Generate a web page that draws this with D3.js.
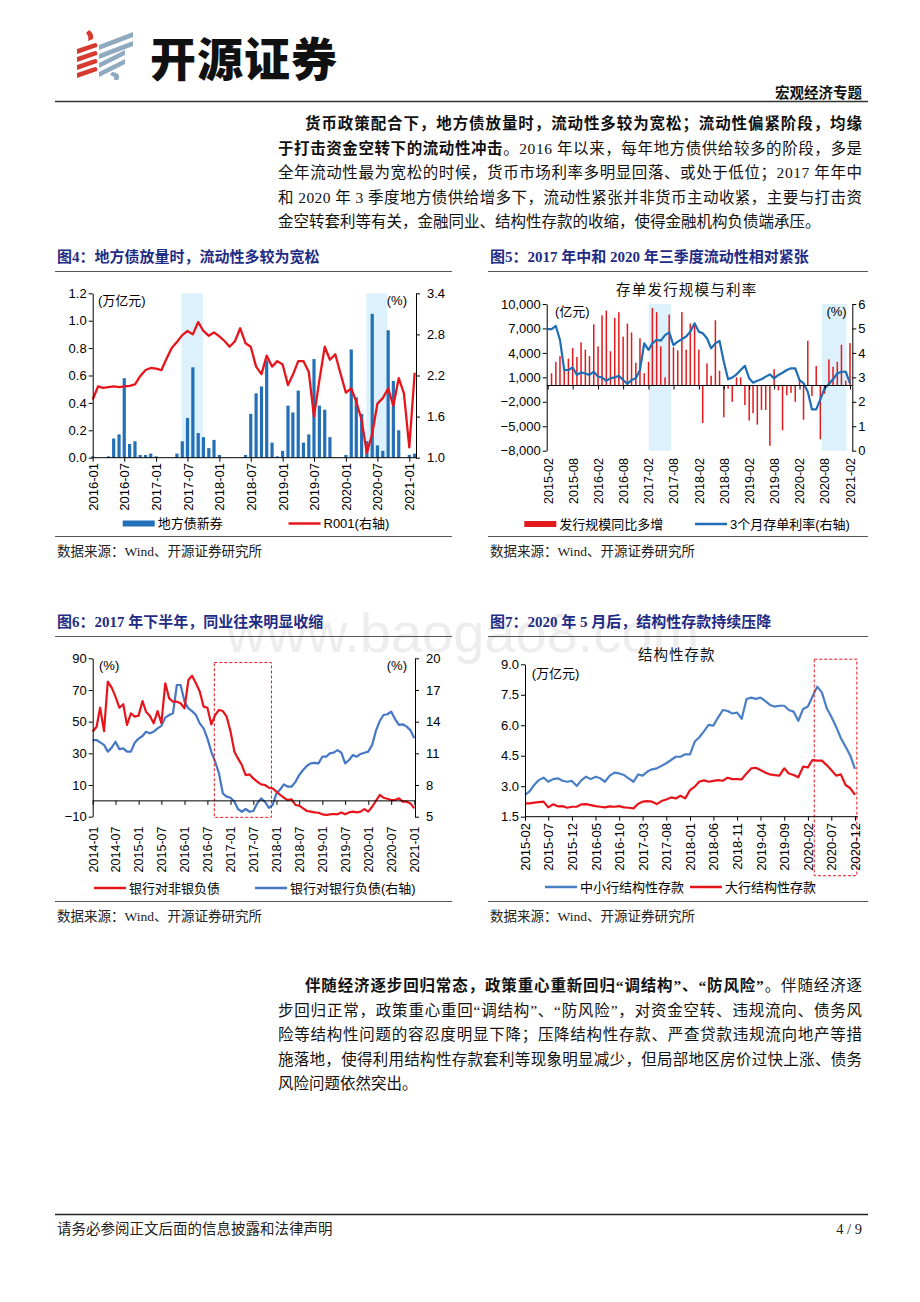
<!DOCTYPE html>
<html>
<head>
<meta charset="utf-8">
<script src="https://cdn.jsdelivr.net/npm/d3@7"></script>
<style>
html, body { margin: 0; padding: 0; background: #fff; }
svg { display: block; }
</style>
</head>
<body>
<svg id="page" width="920" height="1302"></svg>
<script>
'use strict';

// ---- 图4: 地方债新券 (万亿元) / R001 (%) ----
var c4Start = "2016-01";
var c4Bond = [0.01, 0, 0, 0.01, 0.14, 0.17, 0.58, 0.10, 0.12, 0.02, 0.02, 0.03,
              0.01, 0, 0, 0, 0.03, 0.12, 0.29, 0.66, 0.18, 0.15, 0.07, 0.13,
              0.02, 0, 0, 0, 0, 0.02, 0.32, 0.47, 0.52, 0.71, 0.11, 0.01,
              0.05, 0.38, 0.33, 0.49, 0.11, 0.17, 0.72, 0.38, 0.35, 0.15, 0, 0,
              0.02, 0.79, 0.44, 0.32, 0.12, 1.05, 0.09, 0.05, 0.93, 0.56, 0.20, 0,
              0.02, 0.03];
var c4R001 = [1.85, 2.04, 2.02, 2.03, 2.04, 2.03, 2.04, 2.05, 2.07, 2.19, 2.28, 2.31,
              2.30, 2.28, 2.44, 2.60, 2.69, 2.79, 2.85, 2.80, 2.98, 2.85, 2.78, 2.83,
              2.77, 2.70, 2.62, 2.70, 2.89, 2.67, 2.62, 2.33, 2.22, 2.49, 2.33, 2.41,
              2.36, 2.06, 2.21, 2.41, 2.41, 2.25, 1.60, 2.13, 2.62, 2.43, 2.51, 2.23,
              1.95, 2.01, 1.82, 1.55, 1.07, 1.35, 1.79, 1.87, 2.01, 1.76, 2.16, 1.94,
              1.15, 2.24];
var c4Shade = [["2017-05-28", "2017-09-28"], ["2020-04-28", "2020-08-28"]];
var c4Ticks = ["2016-01", "2016-07", "2017-01", "2017-07", "2018-01", "2018-07",
               "2019-01", "2019-07", "2020-01", "2020-07", "2021-01"];
var c4LeftTicks = [0, 0.2, 0.4, 0.6, 0.8, 1.0, 1.2];
var c4RightTicks = [1.0, 1.6, 2.2, 2.8, 3.4];

// ---- 图5: 存单发行规模同比多增 (亿元) / 3个月存单利率 (%) ----
var c5BarStart = "2015-03";
var c5Bars = [1500, 2900, 3600, 2000, 3300, 4600, 3500, 5300, 4400, 3600,
              7500, 4800, 8600, 9200, 4200, 8300, 9000, 6000, 7600, 6500,
              2800, 5800, 1500, 2900, 9500, 9000, 4800, 1000, 8700, 4700,
              4300, 9000, 4400, 7600, 7500, 4400, -4600, 2700, 1200, 8000,
              1800, -3900, -400, -2000, 1000, 1000, -2400, -4300, -3400, -4800,
              -3000, -3000, -7400, 2000, -600, -5500, -1200, -900, -2000, 600,
              -4200, 5500, -1300, 2400, -6600, -1000, 3200, 2300, 2900, 5000,
              600, 5200];
var c5LineStart = "2015-02";
var c5Rate = [4.97, 4.97, 5.10, 4.53, 3.30, 3.30, 3.40, 3.10, 3.20, 3.16, 3.10, 3.23,
              3.03, 3.00, 2.86, 2.96, 3.00, 3.06, 2.89, 2.73, 2.89, 2.96, 3.30, 4.39,
              4.12, 4.39, 4.53, 4.50, 4.73, 4.84, 4.32, 4.46, 4.56, 4.67, 4.87, 5.21,
              4.87, 4.80, 4.60, 4.19, 4.39, 4.49, 3.64, 2.92, 2.99, 3.12, 3.30, 3.47,
              2.96, 2.78, 2.86, 2.92, 3.03, 3.12, 2.96, 3.10, 3.19, 3.30, 3.37, 3.37,
              2.89, 2.76, 2.41, 1.69, 1.69, 2.10, 2.55, 2.73, 2.92, 3.16, 3.23, 3.23,
              2.75];
var c5Shade = [["2017-02-03", "2017-07-16"], ["2020-07-12", "2021-01-06"]];
var c5Ticks = ["2015-02", "2015-08", "2016-02", "2016-08", "2017-02", "2017-08", "2018-02",
               "2018-08", "2019-02", "2019-08", "2020-02", "2020-08", "2021-02"];
var c5LeftTicks = [-8000, -5000, -2000, 1000, 4000, 7000, 10000];
var c5RightTicks = [0, 1, 2, 3, 4, 5, 6];

// ---- 图6: 银行对非银负债 / 银行对银行负债 (%) ----
var c6Start = "2014-01";
var c6NonBank = [43.7, 46.8, 58.8, 44, 75.3, 71.5, 65.8, 58.8, 61, 47.9, 55.3, 53.2,
                 53.8, 63, 56.3, 53.6, 49, 56.7, 49, 74.2, 64.7, 62.6, 62.6, 61.6,
                 58.4, 76.3, 79, 74.2, 69, 59.5, 58.8, 48.3, 54.2, 57.4, 56.7, 53.2,
                 43.7, 31, 26.8, 22.6, 16.3, 16.7, 14.2, 12.1, 10.4, 10, 8.3, 7.9,
                 5.8, 3.7, 2, 0.5, 1, -2.6, -3, -4.7, -6.4, -6.8, -7.3, -7.5,
                 -8.5, -8.9, -8.5, -8.3, -8.5, -7.3, -8.5, -7.3, -6.8, -7.3, -6.8, -5.2,
                 -6.8, -3.7, -0.1, 3.7, 2, 1.3, 0.5, 0.5, 1.6, -0.5, -0.5, -1.6,
                 -4.7];
var c6Bank = [12.26, 12.26, 12.04, 11.8, 11.16, 11.54, 12.1, 11.4, 11.47, 11.16, 11.16, 12.0,
              12.4, 12.64, 13.05, 12.9, 13.05, 13.37, 13.6, 14.38, 14.63, 14.79, 17.47, 17.47,
              15.9, 15.26, 15.0, 14.63, 13.84, 13.37, 12.42, 11.16, 10.2, 9.1, 7.2, 6.9,
              6.8, 6.42, 5.73, 5.47, 5.73, 5.47, 5.54, 6.26, 6.74, 6.42, 5.85, 6.1,
              7.2, 7.6, 8.06, 7.84, 7.84, 8.3, 8.95, 9.42, 9.83, 10.05, 10.1, 10.05,
              10.68, 10.68, 11.0, 11.06, 11.3, 11.06, 10.05, 10.37, 10.84, 10.68, 10.94, 11.06,
              11.16, 11.8, 13.1, 14.06, 14.63, 14.7, 14.95, 14.25, 13.7, 13.75, 13.53, 13.2,
              12.42];
var c6Box = { from: "2016-08-25", to: "2017-11-22", top: 87.3, bottom: -10.4 };
var c6Ticks = ["2014-01", "2014-07", "2015-01", "2015-07", "2016-01", "2016-07", "2017-01",
               "2017-07", "2018-01", "2018-07", "2019-01", "2019-07", "2020-01", "2020-07", "2021-01"];
var c6LeftTicks = [-10, 10, 30, 50, 70, 90];
var c6RightTicks = [5, 8, 11, 14, 17, 20];

// ---- 图7: 结构性存款 (万亿元) ----
var c7Start = "2015-02";
var c7Small = [2.57, 2.73, 3.06, 3.30, 3.42, 3.22, 3.35, 3.39, 3.27, 3.22, 3.26, 3.01,
               3.30, 3.47, 3.35, 3.47, 3.39, 3.22, 3.52, 3.67, 3.63, 3.55, 3.39, 3.22,
               3.58, 3.52, 3.72, 3.83, 3.88, 4.0, 4.13, 4.29, 4.45, 4.45, 4.57, 4.57,
               5.2, 5.4, 5.7, 6.02, 5.98, 6.38, 6.75, 6.70, 6.58, 6.62, 6.32, 7.29,
               7.36, 7.30, 7.36, 7.20, 7.00, 6.92, 6.96, 6.96, 6.75, 6.67, 6.22, 6.80,
               6.92, 7.40, 7.90, 7.62, 6.85, 6.42, 5.93, 5.36, 4.95, 4.50, 3.85];
var c7Large = [2.16, 2.16, 2.19, 2.22, 2.24, 1.96, 2.11, 2.01, 2.02, 1.94, 1.99, 1.99,
               2.11, 2.12, 2.07, 2.02, 1.99, 1.96, 2.01, 1.99, 2.02, 1.96, 1.94, 1.91,
               2.14, 2.24, 2.27, 2.24, 2.12, 2.27, 2.35, 2.45, 2.40, 2.53, 2.40, 2.81,
               2.98, 3.22, 3.29, 3.22, 3.26, 3.30, 3.27, 3.42, 3.35, 3.35, 3.34, 3.63,
               3.88, 3.91, 3.80, 3.68, 3.58, 3.55, 3.52, 3.88, 3.63, 3.55, 3.44, 3.96,
               3.93, 4.29, 4.26, 4.26, 4.04, 3.80, 3.52, 3.58, 3.06, 2.90, 2.57];
var c7Box = { from: "2020-03-13", to: "2020-12-13", top: 9.25 };
var c7Ticks = ["2015-02", "2015-07", "2015-12", "2016-05", "2016-10", "2017-03", "2017-08",
               "2018-01", "2018-06", "2018-11", "2019-04", "2019-09", "2020-02", "2020-07", "2020-12"];
var c7LeftTicks = [1.5, 3.0, 4.5, 6.0, 7.5, 9.0];

// ---- 正文 ----
var para1 = [
    { indent: true, justify: true, segs: [["货币政策配合下，地方债放量时，流动性多较为宽松；流动性偏紧阶段，均缘", true]] },
    { justify: true, segs: [["于打击资金空转下的流动性冲击", true], ["。2016 年以来，每年地方债供给较多的阶段，多是", false]] },
    { justify: true, segs: [["全年流动性最为宽松的时候，货币市场利率多明显回落、或处于低位；2017 年年中", false]] },
    { justify: true, segs: [["和 2020 年 3 季度地方债供给增多下，流动性紧张并非货币主动收紧，主要与打击资", false]] },
    { justify: false, segs: [["金空转套利等有关，金融同业、结构性存款的收缩，使得金融机构负债端承压。", false]] }
];
var para2 = [
    { indent: true, justify: true, segs: [["伴随经济逐步回归常态，政策重心重新回归“调结构”、“防风险”", true], ["。伴随经济逐", false]] },
    { justify: true, segs: [["步回归正常，政策重心重回“调结构”、“防风险”，对资金空转、违规流向、债务风", false]] },
    { justify: true, segs: [["险等结构性问题的容忍度明显下降；压降结构性存款、严查贷款违规流向地产等措", false]] },
    { justify: true, segs: [["施落地，使得利用结构性存款套利等现象明显减少，但局部地区房价过快上涨、债务", false]] },
    { justify: false, segs: [["风险问题依然突出。", false]] }
];

var BODY = '"Liberation Serif", "Noto Sans CJK SC", serif';
var CJK = '"Liberation Sans", "Noto Sans CJK SC", sans-serif';
var NUM = '"Liberation Sans", Arial, sans-serif';
var NAVY = "#1F2C86";
var RED = "#E8141B";

var parseM = d3.timeParse("%Y-%m"),
    parseD = d3.timeParse("%Y-%m-%d"),
    fmtM = d3.timeFormat("%Y-%m");

function series(start, values) {
    return values.map(function(v, i) {
        return { date: d3.timeMonth.offset(parseM(start), i), v: v };
    });
}

var svg = d3.select("#page");
svg.append("rect").attr("width", 920).attr("height", 1302).attr("fill", "#fff");

// watermark
svg.append("text")
    .attr("x", 226).attr("y", 652)
    .attr("font-family", NUM).attr("font-size", 56)
    .attr("fill", "#ededed")
    .text("www.baogao8.com");

// ---- header logo ----
var logo = svg.append("g");
// red ribbon
logo.append("path").attr("d", "M89,30C92,32 94,35 93,39L88,41C89,38 88,35 86,33Z").attr("fill", "#D63A2F");
[0, 1, 2, 3].forEach(function(k) {
    var y0 = 44 + k * 8;
    logo.append("path")
        .attr("d", "M77," + (y0 + 5) + "L95," + (y0 - 1) + "C97," + (y0 - 1) + " 98," + (y0 + 1) + " 97," + (y0 + 3) +
                   "L77," + (y0 + 10) + "Z")
        .attr("fill", "#D63A2F");
});
// blue-grey ribbon
[0, 1, 2, 3].forEach(function(k) {
    var y0 = 36 + k * 9, len = k < 2 ? 34 : 26;
    logo.append("path")
        .attr("d", "M99," + (y0 + 9) + "L" + (99 + len) + "," + (y0 - 4) + "L" + (99 + len) + "," + (y0 + 1) + "L99," + (y0 + 14) + "Z")
        .attr("fill", "#8FAAC0");
});
logo.append("path").attr("d", "M112,72C118,72 121,76 118,80L114,80C115,78 114,76 110,75Z").attr("fill", "#8FAAC0");

svg.append("text")
    .attr("x", 150).attr("y", 76)
    .attr("font-family", '"Noto Sans CJK SC", sans-serif')
    .attr("font-size", 46).attr("font-weight", 900)
    .attr("letter-spacing", 1)
    .attr("fill", "#111")
    .text("开源证券");

svg.append("text")
    .attr("x", 862).attr("y", 93)
    .attr("text-anchor", "end").attr("dominant-baseline", "central")
    .attr("font-family", BODY).attr("font-size", 14.5).attr("font-weight", "bold")
    .attr("fill", "#111")
    .text("宏观经济专题");

svg.append("line")
    .attr("x1", 55).attr("x2", 868).attr("y1", 101.5).attr("y2", 101.5)
    .attr("stroke", "#333").attr("stroke-width", 1.5);

// ---- body text ----
function paragraph(lines, y0, lh) {
    lines.forEach(function(ln, i) {
        var x0 = ln.indent ? 305 : 278;
        var t = svg.append("text")
            .attr("x", x0).attr("y", y0 + i * lh)
            .attr("dominant-baseline", "central")
            .attr("font-family", BODY).attr("font-size", 15.5)
            .attr("fill", "#111");
        if (ln.justify) {
            t.attr("textLength", 862 - x0).attr("lengthAdjust", "spacing");
        }
        ln.segs.forEach(function(s) {
            t.append("tspan").attr("font-weight", s[1] ? "bold" : "normal").text(s[0]);
        });
    });
}
paragraph(para1, 123, 24.6);
paragraph(para2, 985, 24.5);

// ---- figure frames ----
var frames = [
    { x1: 55, x2: 452, ty: 257, title: "图4：地方债放量时，流动性多较为宽松", top: 271.5, bottom: 536.5 },
    { x1: 488, x2: 868, ty: 257, title: "图5：2017 年中和 2020 年三季度流动性相对紧张", top: 271.5, bottom: 536.5 },
    { x1: 55, x2: 452, ty: 622, title: "图6：2017 年下半年，同业往来明显收缩", top: 636.5, bottom: 901.5 },
    { x1: 488, x2: 868, ty: 622, title: "图7：2020 年 5 月后，结构性存款持续压降", top: 636.5, bottom: 901.5 }
];
frames.forEach(function(f) {
    svg.append("text")
        .attr("x", f.x1 + 2).attr("y", f.ty)
        .attr("dominant-baseline", "central")
        .attr("font-family", '"Liberation Serif", "Noto Sans CJK SC", serif')
        .attr("font-size", 15).attr("font-weight", "bold")
        .attr("fill", NAVY)
        .text(f.title);
    svg.append("line").attr("x1", f.x1).attr("x2", f.x2).attr("y1", f.top).attr("y2", f.top)
        .attr("stroke", "#555").attr("stroke-width", 1.2);
    svg.append("line").attr("x1", f.x1).attr("x2", f.x2).attr("y1", f.bottom).attr("y2", f.bottom)
        .attr("stroke", "#555").attr("stroke-width", 1.2);
    svg.append("text")
        .attr("x", f.x1 + 2).attr("y", f.bottom + 14.5)
        .attr("dominant-baseline", "central")
        .attr("font-family", BODY).attr("font-size", 13.5)
        .attr("fill", "#222")
        .text("数据来源：Wind、开源证券研究所");
});

// ---- axis helpers ----
function styleAxis(a, fs) {
    a.attr("font-family", NUM).attr("font-size", fs);
    a.selectAll("path.domain").attr("stroke", "#000");
    a.selectAll(".tick line").attr("stroke", "#000");
    a.selectAll(".tick text").attr("fill", "#000");
}

function leftAxis(g, y, ticks, x, fmt, pad) {
    var a = g.append("g").attr("transform", "translate(" + x + ",0)")
        .call(d3.axisLeft(y).tickValues(ticks).tickSize(4).tickSizeOuter(0).tickPadding(pad).tickFormat(fmt));
    styleAxis(a, 13);
}

function rightAxis(g, y, ticks, x, fmt, pad) {
    var a = g.append("g").attr("transform", "translate(" + x + ",0)")
        .call(d3.axisRight(y).tickValues(ticks).tickSize(4).tickSizeOuter(0).tickPadding(pad).tickFormat(fmt));
    styleAxis(a, 13);
}

function xAxisLine(g, x, ticks, y0, xr) {
    g.append("line").attr("x1", xr[0]).attr("x2", xr[1]).attr("y1", y0).attr("y2", y0)
        .attr("stroke", "#000").attr("stroke-width", 1);
    var a = g.append("g").attr("transform", "translate(0," + y0 + ")")
        .call(d3.axisBottom(x).tickValues(ticks.map(parseM)).tickSize(4).tickFormat(""));
    a.select(".domain").remove();
    a.selectAll(".tick line").attr("stroke", "#000");
}

function xLabels(g, x, ticks, yTop, fs) {
    var a = g.append("g").attr("transform", "translate(0," + yTop + ")")
        .call(d3.axisBottom(x).tickValues(ticks.map(parseM)).tickSize(0).tickFormat(fmtM));
    a.select(".domain").remove();
    a.attr("font-family", NUM).attr("font-size", fs);
    a.selectAll("text")
        .attr("transform", "rotate(-90)")
        .attr("x", 0).attr("y", 0).attr("dy", "0.35em")
        .style("text-anchor", "end")
        .attr("fill", "#000");
}

function label(g, x, y, txt, anchor, fs) {
    g.append("text")
        .attr("x", x).attr("y", y)
        .attr("text-anchor", anchor || "start")
        .attr("dominant-baseline", "central")
        .attr("font-family", CJK).attr("font-size", fs || 13)
        .attr("fill", "#000")
        .text(txt);
}

function legendLine(g, x, y, color, txt) {
    g.append("line").attr("x1", x).attr("x2", x + 32).attr("y1", y).attr("y2", y)
        .attr("stroke", color).attr("stroke-width", 2.5);
    label(g, x + 35, y, txt, "start", 13);
}

function legendRect(g, x, y, color, txt) {
    g.append("rect").attr("x", x).attr("y", y - 3).attr("width", 32).attr("height", 6).attr("fill", color);
    label(g, x + 35, y, txt, "start", 13);
}

// ======== 图4 ========
(function() {
    var g = svg.append("g");
    var x = d3.scaleTime().domain([parseM(c4Ticks[0]), parseM(c4Ticks[c4Ticks.length - 1])]).range([92.7, 409.3]);
    var yL = d3.scaleLinear().domain([0, 1.2]).range([457.7, 293.3]);
    var yR = d3.scaleLinear().domain([1.0, 3.4]).range([457.7, 293.3]);
    var bond = series(c4Start, c4Bond), r001 = series(c4Start, c4R001);

    g.selectAll(".shade").data(c4Shade).join("rect")
        .attr("x", function(d) { return x(parseD(d[0])); })
        .attr("width", function(d) { return x(parseD(d[1])) - x(parseD(d[0])); })
        .attr("y", yL(1.2)).attr("height", yL(0) - yL(1.2))
        .attr("fill", "#DCF1FB");

    g.selectAll(".bar").data(bond.filter(function(d) { return d.v > 0; })).join("rect")
        .attr("x", function(d) { return x(d.date) - 1.6; })
        .attr("width", 3.2)
        .attr("y", function(d) { return yL(d.v); })
        .attr("height", function(d) { return yL(0) - yL(d.v); })
        .attr("fill", "#2470B8");

    g.append("path").datum(r001)
        .attr("d", d3.line().x(function(d) { return x(d.date); }).y(function(d) { return yR(d.v); }))
        .attr("fill", "none").attr("stroke", RED).attr("stroke-width", 2.3).attr("stroke-linejoin", "round");

    leftAxis(g, yL, c4LeftTicks, 92.7, d3.format(".1f"), 2);
    rightAxis(g, yR, c4RightTicks, 416, d3.format(".1f"), 7);
    xAxisLine(g, x, c4Ticks, 457.7, [92.7, 416]);
    xLabels(g, x, c4Ticks, 463, 13);

    label(g, 98, 300, "(万亿元)");
    label(g, 407, 300, "(%)", "end");
    legendRect(g, 122.7, 523.5, "#2470B8", "地方债新券");
    legendLine(g, 288.5, 523.5, RED, "R001(右轴)");
})();

// ======== 图5 ========
(function() {
    var g = svg.append("g");
    var x = d3.scaleTime().domain([parseM(c5Ticks[0]), parseM(c5Ticks[c5Ticks.length - 1])]).range([547.7, 850]);
    var yL = d3.scaleLinear().domain([-8000, 10000]).range([450.7, 304]);
    var yR = d3.scaleLinear().domain([0, 6]).range([450.7, 304]);
    var bars = series(c5BarStart, c5Bars), rate = series(c5LineStart, c5Rate);

    g.selectAll(".shade").data(c5Shade).join("rect")
        .attr("x", function(d) { return x(parseD(d[0])); })
        .attr("width", function(d) { return x(parseD(d[1])) - x(parseD(d[0])); })
        .attr("y", yL(10000)).attr("height", yL(-8000) - yL(10000))
        .attr("fill", "#DCF1FB");

    g.selectAll(".bar").data(bars).join("rect")
        .attr("x", function(d) { return x(d.date) - 0.75; })
        .attr("width", 1.5)
        .attr("y", function(d) { return yL(Math.max(0, d.v)); })
        .attr("height", function(d) { return Math.abs(yL(d.v) - yL(0)); })
        .attr("fill", "#E31A1C");

    g.append("path").datum(rate)
        .attr("d", d3.line().x(function(d) { return x(d.date); }).y(function(d) { return yR(d.v); }))
        .attr("fill", "none").attr("stroke", "#1F6DB5").attr("stroke-width", 2.2).attr("stroke-linejoin", "round");

    leftAxis(g, yL, c5LeftTicks, 546.7, d3.format(","), 2);
    rightAxis(g, yR, c5RightTicks, 852.3, d3.format("d"), 2);
    xAxisLine(g, x, c5Ticks, yL(0), [546.7, 852.3]);
    xLabels(g, x, c5Ticks, 458, 12.5);

    g.append("text")
        .attr("x", 686.7).attr("y", 289.5)
        .attr("text-anchor", "middle").attr("dominant-baseline", "central")
        .attr("font-family", CJK).attr("font-size", 14.5).attr("letter-spacing", 1.2)
        .attr("fill", "#111")
        .text("存单发行规模与利率");
    label(g, 555, 311, "(亿元)");
    label(g, 846.7, 311, "(%)", "end");
    legendRect(g, 524.3, 524, "#E31A1C", "发行规模同比多增");
    legendLine(g, 695, 524, "#1F6DB5", "3个月存单利率(右轴)");
})();

// ======== 图6 ========
(function() {
    var g = svg.append("g");
    var x = d3.scaleTime().domain([parseM(c6Ticks[0]), parseM(c6Ticks[c6Ticks.length - 1])]).range([92.7, 414.3]);
    var yL = d3.scaleLinear().domain([-10, 90]).range([816.7, 658.3]);
    var yR = d3.scaleLinear().domain([5, 20]).range([816.7, 658.3]);
    var nonBank = series(c6Start, c6NonBank), bank = series(c6Start, c6Bank);

    g.append("path").datum(bank)
        .attr("d", d3.line().x(function(d) { return x(d.date); }).y(function(d) { return yR(d.v); }))
        .attr("fill", "none").attr("stroke", "#4577C4").attr("stroke-width", 2.2).attr("stroke-linejoin", "round");
    g.append("path").datum(nonBank)
        .attr("d", d3.line().x(function(d) { return x(d.date); }).y(function(d) { return yL(d.v); }))
        .attr("fill", "none").attr("stroke", RED).attr("stroke-width", 2.2).attr("stroke-linejoin", "round");

    var bx0 = x(parseD(c6Box.from)), bx1 = x(parseD(c6Box.to));
    g.append("rect")
        .attr("x", bx0).attr("width", bx1 - bx0)
        .attr("y", yL(c6Box.top)).attr("height", yL(c6Box.bottom) - yL(c6Box.top))
        .attr("fill", "none").attr("stroke", RED).attr("stroke-width", 1).attr("stroke-dasharray", "3,2");

    leftAxis(g, yL, c6LeftTicks, 92.7, d3.format("d"), 2);
    rightAxis(g, yR, c6RightTicks, 415, d3.format("d"), 7);
    xAxisLine(g, x, c6Ticks, yL(0), [92.7, 415]);
    xLabels(g, x, c6Ticks, 826.5, 12.5);

    label(g, 99, 665, "(%)");
    label(g, 407, 665, "(%)", "end");
    legendLine(g, 94, 888, RED, "银行对非银负债");
    legendLine(g, 255, 888, "#4577C4", "银行对银行负债(右轴)");
})();

// ======== 图7 ========
(function() {
    var g = svg.append("g");
    var x = d3.scaleTime().domain([parseM(c7Ticks[0]), parseM(c7Ticks[c7Ticks.length - 1])]).range([525, 855]);
    var y = d3.scaleLinear().domain([1.5, 9]).range([816.7, 664.3]);
    var small = series(c7Start, c7Small), large = series(c7Start, c7Large);
    var line = d3.line().x(function(d) { return x(d.date); }).y(function(d) { return y(d.v); });

    g.append("path").datum(small).attr("d", line)
        .attr("fill", "none").attr("stroke", "#4A7FC6").attr("stroke-width", 2.2).attr("stroke-linejoin", "round");
    g.append("path").datum(large).attr("d", line)
        .attr("fill", "none").attr("stroke", RED).attr("stroke-width", 2.2).attr("stroke-linejoin", "round");

    var bx0 = x(parseD(c7Box.from)), bx1 = x(parseD(c7Box.to));
    g.append("rect")
        .attr("x", bx0).attr("width", bx1 - bx0)
        .attr("y", y(c7Box.top)).attr("height", y(1.5) + 59 - y(c7Box.top))
        .attr("fill", "none").attr("stroke", RED).attr("stroke-width", 1).attr("stroke-dasharray", "3,2");

    leftAxis(g, y, c7LeftTicks, 525, d3.format(".1f"), 2);
    xAxisLine(g, x, c7Ticks, 816.7, [525, 858]);
    xLabels(g, x, c7Ticks, 823, 13);

    g.append("text")
        .attr("x", 676.7).attr("y", 655)
        .attr("text-anchor", "middle").attr("dominant-baseline", "central")
        .attr("font-family", CJK).attr("font-size", 14.5).attr("letter-spacing", 1)
        .attr("fill", "#111")
        .text("结构性存款");
    label(g, 531.7, 673.5, "(万亿元)");
    legendLine(g, 545, 887, "#4A7FC6", "中小行结构性存款");
    legendLine(g, 690, 887, RED, "大行结构性存款");
})();

// ---- footer ----
svg.append("line")
    .attr("x1", 55).attr("x2", 868).attr("y1", 1214.5).attr("y2", 1214.5)
    .attr("stroke", "#222").attr("stroke-width", 1.5);
svg.append("text")
    .attr("x", 57).attr("y", 1229)
    .attr("dominant-baseline", "central")
    .attr("font-family", BODY).attr("font-size", 14.5)
    .attr("fill", "#222")
    .text("请务必参阅正文后面的信息披露和法律声明");
svg.append("text")
    .attr("x", 862).attr("y", 1229)
    .attr("text-anchor", "end").attr("dominant-baseline", "central")
    .attr("font-family", BODY).attr("font-size", 14.5)
    .attr("fill", "#222")
    .text("4 / 9");
</script>
</body>
</html>
